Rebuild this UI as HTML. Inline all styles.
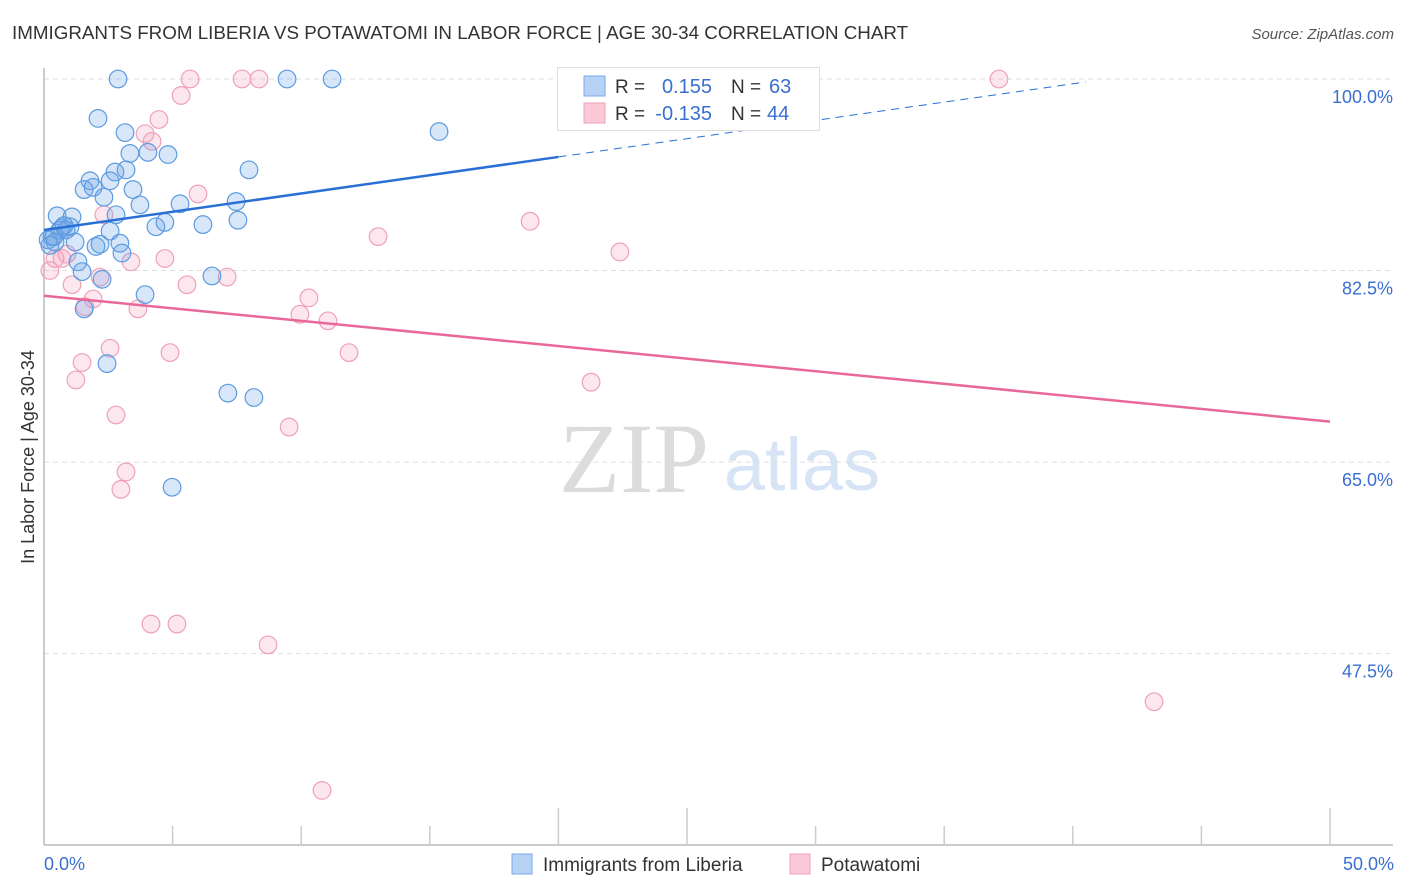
<!DOCTYPE html>
<html><head><meta charset="utf-8"><style>
body{margin:0;background:#fff;font-family:"Liberation Sans",sans-serif}
svg{display:block}
</style></head><body>
<svg width="1406" height="892" viewBox="0 0 1406 892">
<text x="12" y="39" font-size="18.8" fill="#333">IMMIGRANTS FROM LIBERIA VS POTAWATOMI IN LABOR FORCE | AGE 30-34 CORRELATION CHART</text>
<text x="1394" y="39" font-size="15" fill="#555" text-anchor="end" font-style="italic">Source: ZipAtlas.com</text>
<text x="634" y="492" font-size="100" fill="#dcdcdc" text-anchor="middle" font-family="Liberation Serif,serif">ZIP</text>
<text x="802" y="490" font-size="74" fill="#d6e4f5" text-anchor="middle">atlas</text>
<g id="grid"></g>
<g id="axes"></g>
<g id="pts"></g>
<g id="lines"></g>
<text transform="translate(34,457) rotate(-90)" font-size="18" fill="#333" text-anchor="middle">In Labor Force | Age 30-34</text>
<text x="44" y="870" font-size="18" fill="#3a6fd0">0.0%</text>
<text x="1394" y="870" font-size="18" fill="#3a6fd0" text-anchor="end">50.0%</text>
<g>
<rect x="557.5" y="67.5" width="262" height="63" fill="#fff" stroke="#ddd"/>
<rect x="584" y="76" width="21" height="20" fill="#b6d2f5" stroke="#7aaae8"/>
<rect x="584" y="103" width="21" height="20" fill="#fbc9d7" stroke="#f0a0b8"/>
<text x="615" y="93" font-size="19" fill="#333">R =</text><text x="712" y="93" font-size="20" fill="#3a6fd0" text-anchor="end">0.155</text>
<text x="731" y="93" font-size="19" fill="#333">N =</text><text x="769" y="93" font-size="20" fill="#3a6fd0">63</text>
<text x="615" y="120" font-size="19" fill="#333">R =</text><text x="712" y="120" font-size="20" fill="#3a6fd0" text-anchor="end">-0.135</text>
<text x="731" y="120" font-size="19" fill="#333">N =</text><text x="767" y="120" font-size="20" fill="#3a6fd0">44</text>
</g>
<g>
<rect x="512" y="854" width="20" height="20" fill="#b6d2f5" stroke="#7aaae8"/>
<text x="543" y="871" font-size="19" fill="#333">Immigrants from Liberia</text>
<rect x="790" y="854" width="20" height="20" fill="#fbc9d7" stroke="#f0a0b8"/>
<text x="821" y="871" font-size="19" fill="#333">Potawatomi</text>
</g>
</svg>
<script>
const yTicks=[100,82.5,65,47.5];
const yTickLabels=["100.0%","82.5%","65.0%","47.5%"];
const blueX=[2.88,9.45,11.2,2.1,3.15,15.36,4.04,3.34,4.82,2.76,3.19,7.97,1.79,1.56,1.91,2.57,3.46,2.33,3.73,5.29,7.47,0.51,1.09,2.8,6.18,7.54,4.35,4.7,0.7,1.01,0.86,0.31,2.57,0.16,0.43,1.21,2.02,2.18,2.95,3.03,1.32,1.48,6.53,2.26,3.93,1.56,2.45,7.15,8.16,4.98,0.62,0.23,0.39,0.78];
const blueY=[100,100,100,96.4,95.1,95.2,93.3,93.2,93.1,91.5,91.7,91.7,90.7,89.9,90.1,90.7,89.9,89.2,88.5,88.6,88.8,87.5,87.4,87.6,86.7,87.1,86.5,86.9,86.4,86.5,86.2,85.6,86.1,85.3,85.1,85.1,84.7,84.9,85.0,84.1,83.3,82.4,82.0,81.7,80.3,79.0,74.0,71.3,70.9,62.7,86.2,84.8,85.6,86.6];
const pinkX=[5.68,7.7,8.36,37.13,5.33,4.47,3.93,4.2,5.99,2.33,18.9,12.99,22.39,4.7,3.38,0.23,0.89,0.7,0.43,7.12,5.56,1.09,2.18,1.91,10.3,3.65,1.59,9.95,11.04,2.57,4.9,11.86,1.48,1.24,21.27,2.8,9.53,3.19,2.99,4.16,5.17,8.71,43.16,10.81];
const pinkY=[100,100,100,100,98.5,96.3,95.0,94.3,89.5,87.6,87.0,85.6,84.2,83.6,83.3,82.5,84.0,83.6,83.6,81.9,81.2,81.2,81.9,79.9,80.0,79.0,79.2,78.5,77.9,75.4,75.0,75.0,74.1,72.5,72.3,69.3,68.2,64.1,62.5,50.2,50.2,48.3,43.1,35.0];
const blueTrend=[86.2,0.334];
const pinkTrend=[80.2,-0.23];
const NS="http://www.w3.org/2000/svg";
const X=v=>44+v*(1330-44)/50;
const Y=v=>79+(100-v)*(653.6-79)/52.5;
function mk(t,a,p){const e=document.createElementNS(NS,t);for(const k in a)e.setAttribute(k,a[k]);p.appendChild(e);return e;}
const grid=document.getElementById('grid');
yTicks.forEach((t,i)=>{
 const l=mk('line',{x1:44,x2:1393,y1:Y(t),y2:Y(t),stroke:'#ddd','stroke-dasharray':'5,4'},grid);
 
 
 const tx=mk('text',{x:1393,y:Y(t)+24,'font-size':18,fill:'#3a6fd0','text-anchor':'end'},grid);
 tx.textContent=yTickLabels[i];
 
 
});
const ax=document.getElementById('axes');
const la=mk('line',{x1:44,x2:44,y1:68,y2:845,stroke:'#bbb','stroke-width':1.5},ax);


const lb=mk('line',{x1:44,x2:1393,y1:845,y2:845,stroke:'#bbb','stroke-width':1.5},ax);


for(let i=1;i<=10;i++){
 const tl=(i==4||i==5||i==10)?808:826;
 const t=mk('line',{x1:X(i*5),x2:X(i*5),y1:tl,y2:845,stroke:'#ccc','stroke-width':1.5},ax);
 
 
}
const pts=document.getElementById('pts');
pinkX.forEach((x,i)=>{
 const c=mk('circle',{cx:X(x),cy:Y(pinkY[i]),r:8.8,fill:'rgba(245,160,190,0.25)',stroke:'#f0a0b8','stroke-width':1.2},pts);
 
 
});
blueX.forEach((x,i)=>{
 const c=mk('circle',{cx:X(x),cy:Y(blueY[i]),r:8.8,fill:'rgba(110,165,230,0.28)',stroke:'#5d9be0','stroke-width':1.2},pts);
 
 
});
const ln=document.getElementById('lines');
const bt=x=>blueTrend[0]+blueTrend[1]*x, pt=x=>pinkTrend[0]+pinkTrend[1]*x;
const b1=mk('line',{x1:X(0),y1:Y(bt(0)),x2:X(20),y2:Y(bt(20)),stroke:'#2a6fd6','stroke-width':2.5},ln);


const b2=mk('line',{x1:X(20),y1:Y(bt(20)),x2:X(40.5),y2:Y(bt(40.5)),stroke:'#2a6fd6','stroke-width':1,'stroke-dasharray':'8,6'},ln);


const p1=mk('line',{x1:X(0),y1:Y(pt(0)),x2:X(50),y2:Y(pt(50)),stroke:'#e8689a','stroke-width':2.5},ln);


</script>
</body></html>
